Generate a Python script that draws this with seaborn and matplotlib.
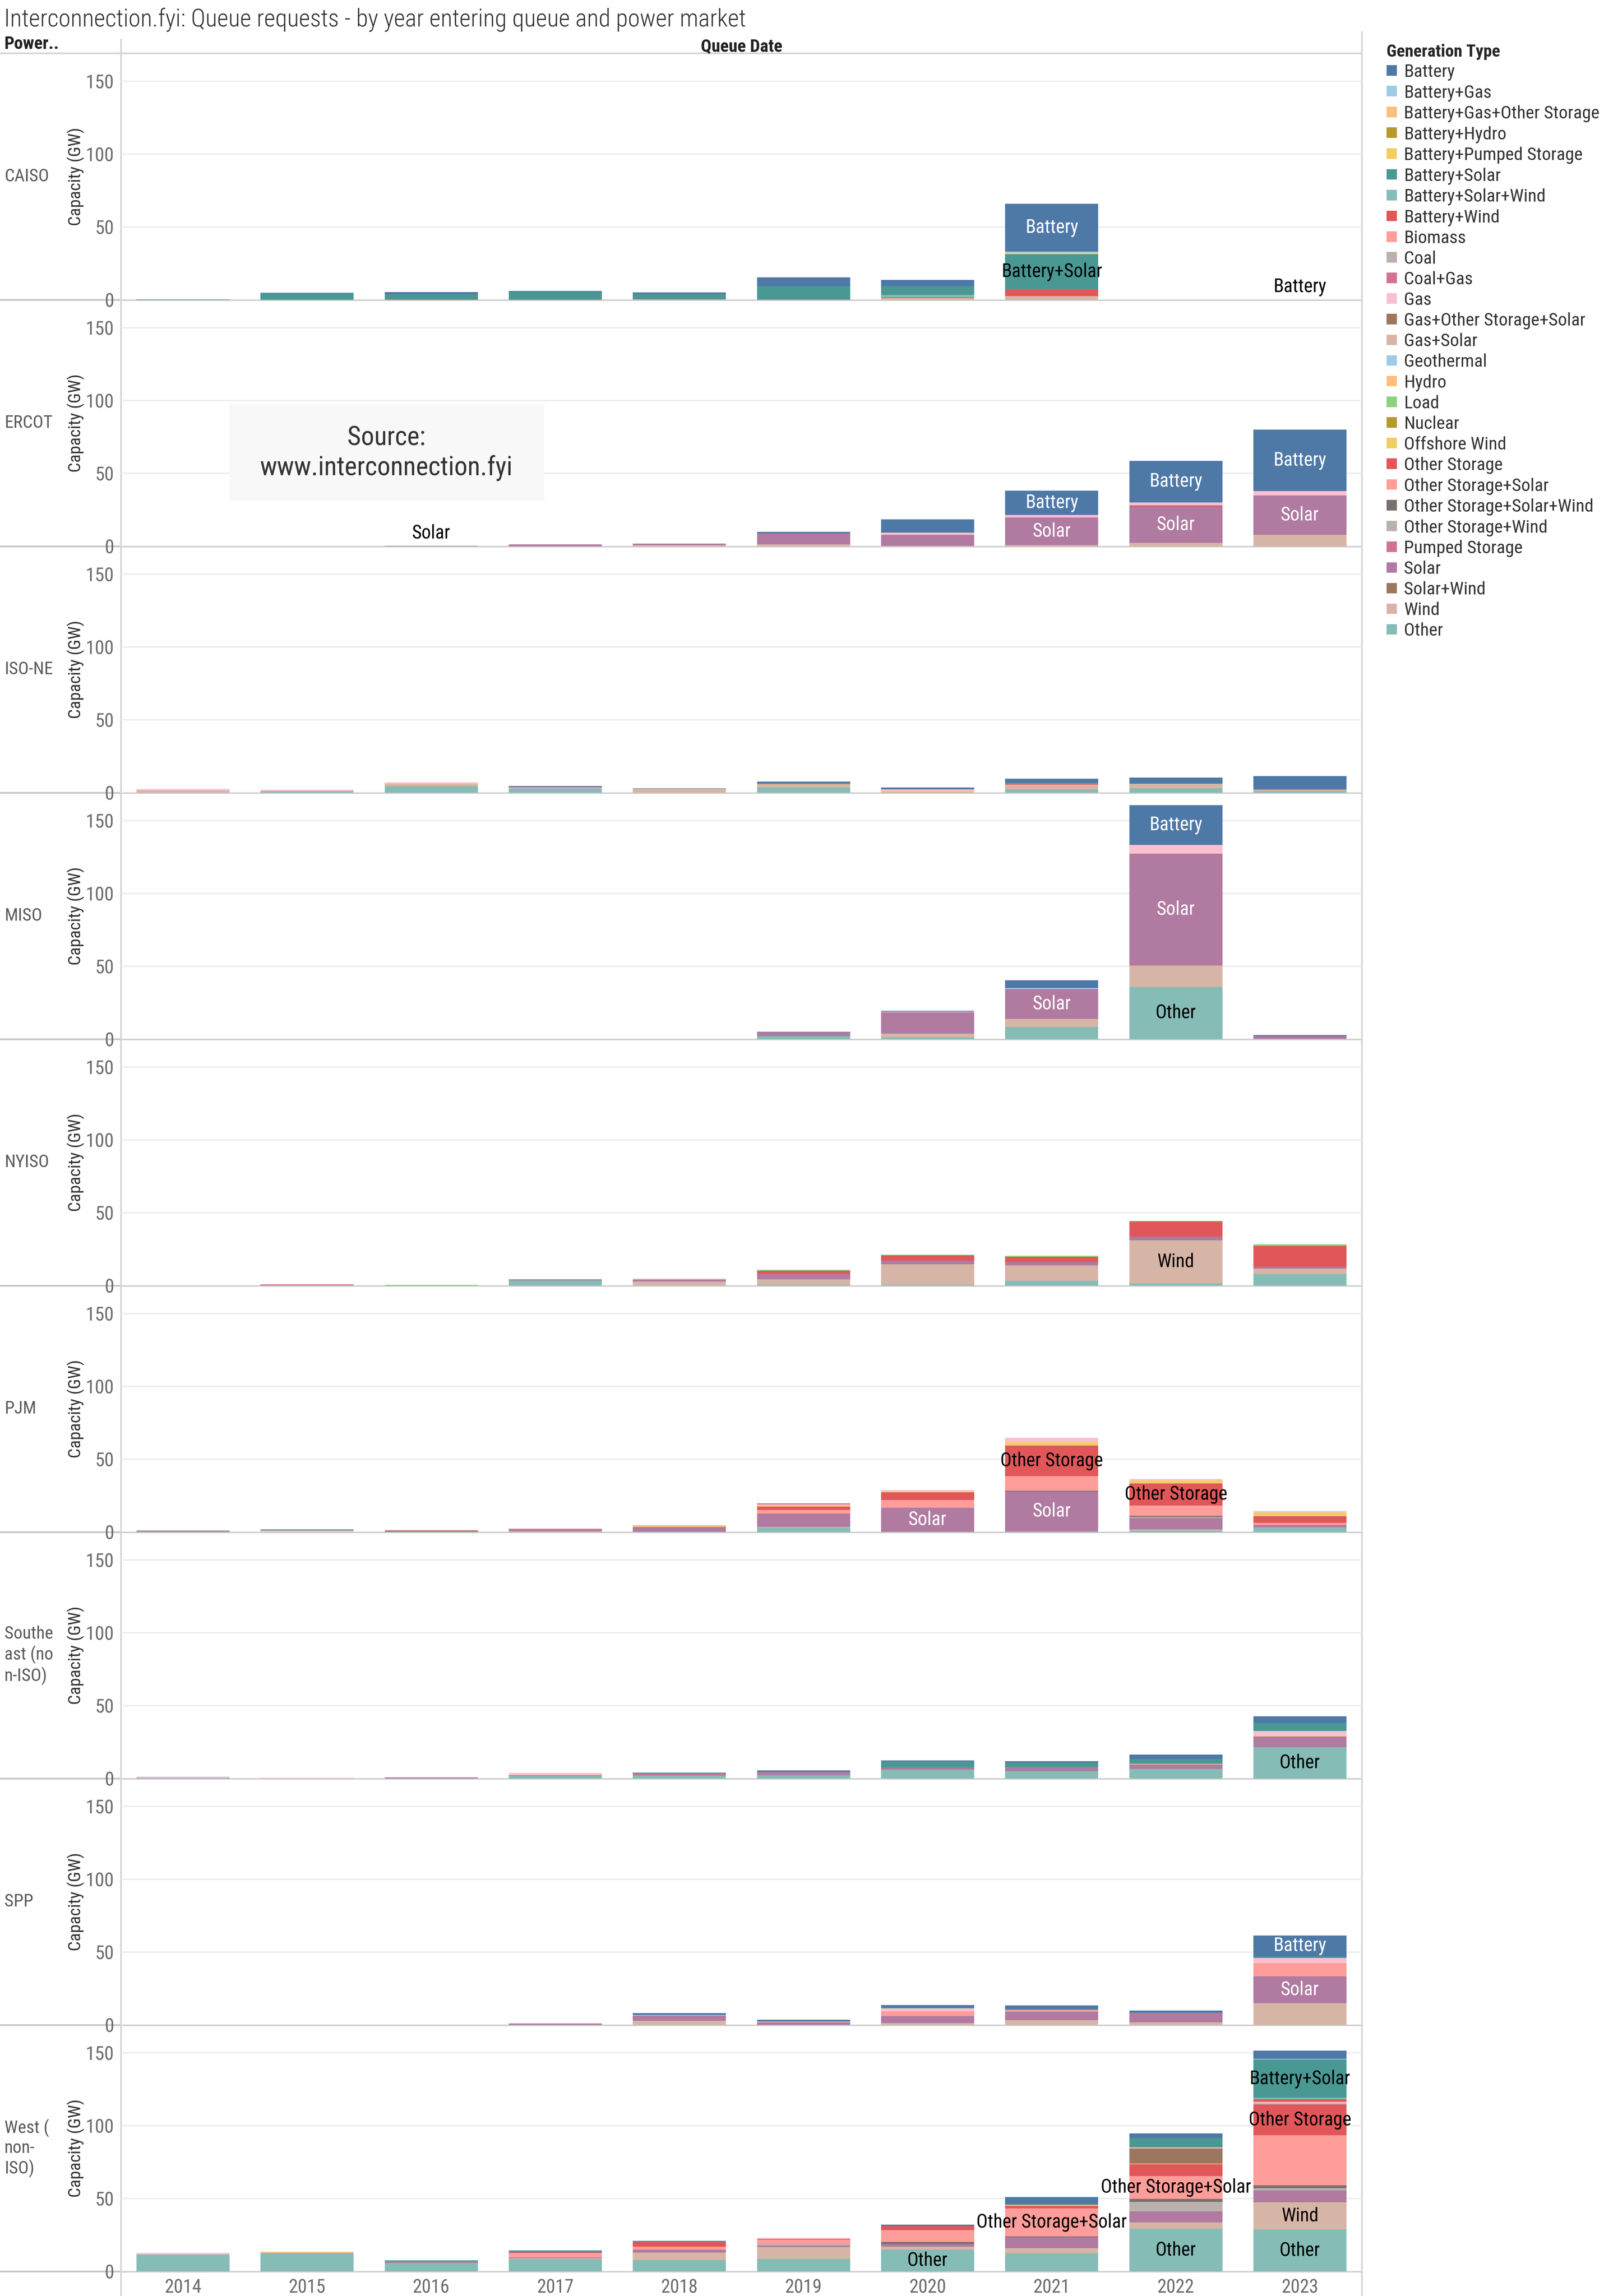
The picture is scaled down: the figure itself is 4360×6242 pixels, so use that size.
import matplotlib
matplotlib.use("Agg")
import matplotlib.pyplot as plt
from matplotlib import font_manager
from matplotlib.font_manager import FontProperties
from matplotlib.patches import Patch, Rectangle
from matplotlib.lines import Line2D
from matplotlib.textpath import TextPath
import pandas as pd
import seaborn as sns

years = [2014, 2015, 2016, 2017, 2018, 2019, 2020, 2021, 2022, 2023]

gen_types = ["Battery", "Battery+Gas", "Battery+Gas+Other Storage", "Battery+Hydro",
             "Battery+Pumped Storage", "Battery+Solar", "Battery+Solar+Wind", "Battery+Wind",
             "Biomass", "Coal", "Coal+Gas", "Gas", "Gas+Other Storage+Solar", "Gas+Solar",
             "Geothermal", "Hydro", "Load", "Nuclear", "Offshore Wind", "Other Storage",
             "Other Storage+Solar", "Other Storage+Solar+Wind", "Other Storage+Wind",
             "Pumped Storage", "Solar", "Solar+Wind", "Wind", "Other"]
gen_colors = ["#4e79a7", "#a0cbe8", "#ffbe7d", "#b6992d", "#f1ce63", "#499894", "#86bcb6",
              "#e15759", "#ff9d9a", "#bab0ac", "#d37295", "#fabfd2", "#9d7660", "#d7b5a6",
              "#a0cbe8", "#ffbe7d", "#8cd17d", "#b6992d", "#f1ce63", "#e15759", "#ff9d9a",
              "#79706e", "#bab0ac", "#d37295", "#b07aa1", "#9d7660", "#d7b5a6", "#86bcb6"]

markets = ["CAISO", "ERCOT", "ISO-NE", "MISO", "NYISO", "PJM",
           "Southeast (non-ISO)", "SPP", "West (non-ISO)"]
market_labels = ["CAISO", "ERCOT", "ISO-NE", "MISO", "NYISO", "PJM",
                 "Southe\nast (no\nn-ISO)", "SPP", "West (\nnon-\nISO)"]

# capacity in GW by generation type, one list per year 2014..2023
caiso = {
    "Battery":                [0.4, 0.3, 1.5, 0.5, 1.0, 6.0, 4.5, 33.0, 0, 0.15],
    "Battery+Gas":            [0, 0, 0, 0, 0, 0, 0, 0.7, 0, 0],
    "Battery+Pumped Storage": [0, 0, 0, 0, 0, 0, 0, 1.0, 0, 0],
    "Battery+Solar":          [0, 4.5, 3.3, 5.0, 3.8, 9.0, 6.0, 24.0, 0, 0],
    "Battery+Solar+Wind":     [0, 0, 0, 0, 0, 0, 1.5, 0, 0, 0],
    "Battery+Wind":           [0, 0, 0.5, 0.5, 0, 0, 0.5, 4.7, 0, 0],
    "Solar":                  [0, 0, 0, 0, 0, 0.4, 0, 0, 0, 0],
    "Wind":                   [0, 0, 0, 0, 0.4, 0, 1.3, 2.7, 0, 0],
}
ercot = {
    "Battery":       [0, 0, 0, 0, 0.3, 1.0, 9.0, 16.7, 28.5, 42.0],
    "Coal+Gas":      [0, 0, 0, 0, 0.3, 0, 0, 0, 0, 0],
    "Gas":           [0, 0, 0, 0, 0, 0, 1.6, 1.6, 2.0, 3.2],
    "Hydro":         [0, 0, 0, 0, 0, 0, 0, 0.3, 0, 0],
    "Other Storage": [0, 0, 0, 0, 0, 0, 0, 0, 0.9, 0],
    "Solar":         [0, 0, 0.3, 1.2, 0.5, 7.7, 7.5, 19.0, 25.0, 27.0],
    "Wind":          [0, 0, 0, 0, 0.7, 1.2, 0.3, 0.7, 2.3, 7.8],
}
isone = {
    "Battery":       [0, 0, 0, 0.5, 0.5, 1.2, 1.4, 3.0, 3.6, 9.0],
    "Battery+Hydro": [0, 0, 0, 0, 0, 0.5, 0, 0.5, 0, 0],
    "Battery+Solar": [0, 0, 0, 0, 0, 0, 0, 0, 0.5, 0.5],
    "Battery+Wind":  [0, 0, 0, 0.5, 0, 0, 0, 0.5, 0, 0],
    "Gas":           [1.0, 1.0, 0.7, 0.5, 0, 0, 0.9, 0, 0, 0],
    "Hydro":         [0, 0, 0.5, 0, 0, 0, 0.9, 0, 0, 0],
    "Wind":          [1.6, 0, 1.2, 0, 2.7, 2.1, 0.5, 3.4, 3.0, 1.0],
    "Other":         [0, 1.0, 4.6, 3.0, 0, 3.7, 0, 2.3, 3.2, 1.0],
}
miso = {
    "Battery":     [0, 0, 0, 0, 0, 0.4, 0.6, 5.4, 27.4, 0.6],
    "Battery+Gas": [0, 0, 0, 0, 0, 0, 0, 0.6, 0, 0],
    "Gas":         [0, 0, 0, 0, 0, 0, 0.4, 0, 5.6, 0],
    "Hydro":       [0, 0, 0, 0, 0, 0, 0, 0, 0.4, 0],
    "Solar":       [0, 0, 0, 0, 0, 2.8, 14.8, 20.6, 76.7, 1.7],
    "Wind":        [0, 0, 0, 0, 0, 0, 2.4, 5.6, 14.6, 0.4],
    "Other":       [0, 0, 0, 0, 0, 2.0, 1.3, 8.3, 36.0, 0],
}
nyiso = {
    "Gas":           [0, 0, 0, 0, 0.5, 0, 0, 0, 0, 0],
    "Load":          [0, 0, 0.6, 0, 0.4, 0.6, 0.6, 0.6, 0.6, 1.0],
    "Other Storage": [0, 0.5, 0, 0, 0, 2.0, 3.5, 3.5, 10.4, 14.6],
    "Solar":         [0, 0, 0, 0.9, 1.2, 3.9, 2.6, 2.4, 2.4, 1.1],
    "Wind":          [0, 0, 0, 0, 2.8, 3.7, 14.0, 10.6, 29.6, 3.9],
    "Other":         [0, 0.3, 0, 3.5, 0, 0.6, 0.6, 3.3, 1.5, 7.8],
}
pjm = {
    "Battery+Solar":            [0, 0.6, 0, 0, 0, 0, 0, 0, 0, 0],
    "Coal":                     [0, 0, 0, 0, 0.6, 0, 0, 0, 0, 0],
    "Coal+Gas":                 [0, 0, 0, 0, 0, 0.6, 0, 0, 0, 0],
    "Gas":                      [0, 1.1, 0.6, 0.4, 0, 0.9, 0.9, 3.0, 0.9, 0.9],
    "Gas+Other Storage+Solar":  [0, 0, 0.6, 0, 0, 0, 0, 0, 0, 0],
    "Hydro":                    [0, 0, 0, 0, 0.6, 0, 0, 0, 0, 0],
    "Offshore Wind":            [0, 0, 0, 0, 0, 0.6, 0.6, 2.4, 2.0, 2.6],
    "Other Storage":            [0, 0, 0, 0, 0.6, 2.2, 5.4, 20.9, 15.2, 4.6],
    "Other Storage+Solar":      [0, 0, 0, 0, 0, 2.6, 5.2, 10.0, 7.0, 1.5],
    "Other Storage+Solar+Wind": [0, 0, 0, 0, 0, 0, 0, 0.6, 0.9, 0],
    "Other Storage+Wind":       [0, 0, 0, 0, 0, 0, 0, 0, 0.6, 0],
    "Solar":                    [0.6, 0, 0, 1.5, 2.4, 9.1, 16.5, 27.2, 8.0, 1.5],
    "Wind":                     [0, 0, 0, 0.6, 0, 0.6, 0, 0, 0.6, 0],
    "Other":                    [0.4, 0, 0.4, 0, 0.4, 3.0, 0.2, 0.6, 1.1, 3.3],
}
southeast = {
    "Battery":       [0, 0, 0, 0, 0, 0.6, 0.3, 1.1, 3.0, 4.6],
    "Battery+Solar": [0, 0, 0, 0, 0.6, 0.5, 4.3, 3.0, 3.3, 5.6],
    "Coal+Gas":      [0, 0, 0, 0, 0.6, 0, 0, 0, 0, 0],
    "Gas":           [0.6, 0.4, 0, 1.5, 0, 0, 0, 0, 0, 3.3],
    "Hydro":         [0, 0, 0, 0, 0, 0, 0, 0, 0.6, 0.6],
    "Nuclear":       [0, 0, 0, 0.6, 0, 0, 0, 0, 0, 0],
    "Solar":         [0, 0, 0.8, 0, 0.9, 2.0, 1.7, 2.8, 3.0, 7.2],
    "Other":         [0.6, 0, 0, 1.7, 2.0, 2.4, 6.0, 5.0, 6.5, 21.5],
}
spp = {
    "Battery":             [0, 0, 0, 0, 1.3, 1.1, 1.8, 2.5, 1.6, 14.6],
    "Battery+Gas":         [0, 0, 0, 0, 0.6, 0, 0, 0, 0, 0],
    "Battery+Solar":       [0, 0, 0, 0, 0, 0, 0.4, 0.6, 0, 0.9],
    "Gas":                 [0, 0, 0, 0, 0, 0.6, 2.2, 0, 0, 3.6],
    "Other Storage+Solar": [0, 0, 0, 0, 0, 0, 3.1, 1.1, 0, 9.0],
    "Solar":               [0, 0, 0, 0.9, 3.4, 1.8, 4.9, 5.8, 6.5, 18.4],
    "Wind":                [0, 0, 0, 0, 2.9, 0, 1.3, 3.4, 1.8, 15.0],
}
west = {
    "Battery":                  [0, 0, 0, 0, 0, 0, 0.9, 4.6, 3.0, 5.6],
    "Battery+Gas":              [0, 0, 0, 0, 0, 0, 0, 0, 0, 0.5],
    "Battery+Solar":            [0, 0, 0.6, 1.1, 0.9, 0, 0, 0.6, 6.2, 26.3],
    "Battery+Solar+Wind":       [0, 0, 0, 0, 0, 0, 0, 0, 0, 1.0],
    "Battery+Wind":             [0, 0, 0, 0, 0, 0, 0, 0, 0.3, 1.6],
    "Gas":                      [0.9, 0, 0, 0, 0, 0.6, 0, 0, 0.9, 0.6],
    "Gas+Other Storage+Solar":  [0, 0, 0, 0, 0, 0, 0, 0, 10.3, 0],
    "Gas+Solar":                [0, 0, 0, 0, 0, 0, 0, 0, 0, 0.7],
    "Geothermal":               [0, 0, 0, 0, 0, 0, 0, 0, 0, 0.6],
    "Hydro":                    [0, 0.9, 0, 0, 0, 0, 0, 0.8, 0.4, 0],
    "Other Storage":            [0, 0, 0, 0.6, 3.1, 0.6, 3.1, 1.6, 8.1, 21.2],
    "Other Storage+Solar":      [0, 0, 0, 2.9, 2.0, 3.1, 8.1, 19.3, 15.7, 34.4],
    "Other Storage+Solar+Wind": [0, 0, 0, 0, 0, 0, 1.3, 0.6, 2.0, 2.0],
    "Other Storage+Wind":       [0, 0, 0, 0, 0, 0.9, 0, 0, 6.5, 1.5],
    "Pumped Storage":           [0, 0, 0, 0.6, 0, 0, 0, 0, 0, 0],
    "Solar":                    [0, 0, 1.3, 0, 2.0, 1.1, 1.8, 7.4, 7.6, 7.7],
    "Solar+Wind":               [0, 0, 0, 0, 0, 0, 0, 0, 0, 0.4],
    "Wind":                     [0, 0, 0, 0.6, 5.2, 8.1, 2.0, 3.5, 4.5, 18.7],
    "Other":                    [11.7, 12.6, 5.8, 8.5, 7.8, 8.5, 15.0, 12.5, 29.2, 28.7],
}
market_data = [caiso, ercot, isone, miso, nyiso, pjm, southeast, spp, west]

# segment labels shown on the bars (market, year, generation type)
bar_labels = [
    ("CAISO", 2021, "Battery"), ("CAISO", 2021, "Battery+Solar"), ("CAISO", 2023, "Battery"),
    ("ERCOT", 2016, "Solar"), ("ERCOT", 2021, "Battery"), ("ERCOT", 2021, "Solar"),
    ("ERCOT", 2022, "Battery"), ("ERCOT", 2022, "Solar"),
    ("ERCOT", 2023, "Battery"), ("ERCOT", 2023, "Solar"),
    ("MISO", 2021, "Solar"), ("MISO", 2022, "Battery"), ("MISO", 2022, "Solar"),
    ("MISO", 2022, "Other"),
    ("NYISO", 2022, "Wind"),
    ("PJM", 2020, "Solar"), ("PJM", 2021, "Other Storage"), ("PJM", 2021, "Solar"),
    ("PJM", 2022, "Other Storage"),
    ("Southeast (non-ISO)", 2023, "Other"),
    ("SPP", 2023, "Battery"), ("SPP", 2023, "Solar"),
    ("West (non-ISO)", 2020, "Other"), ("West (non-ISO)", 2021, "Other Storage+Solar"),
    ("West (non-ISO)", 2022, "Other Storage+Solar"), ("West (non-ISO)", 2022, "Other"),
    ("West (non-ISO)", 2023, "Battery+Solar"), ("West (non-ISO)", 2023, "Other Storage"),
    ("West (non-ISO)", 2023, "Wind"), ("West (non-ISO)", 2023, "Other"),
]

rows = []
for m, d in zip(markets, market_data):
    for g, vals in d.items():
        for y, v in zip(years, vals):
            if v > 0:
                rows.append({"market": m, "year": y, "type": g, "value": v})
df = pd.DataFrame(rows)
palette = dict(zip(gen_types, gen_colors))

sns.set_style("white")

# pick a condensed face if one is installed (the original uses a narrow Tableau font)
entries = font_manager.fontManager.ttflist
installed = {f.name for f in entries}
font_family, font_stretch = "DejaVu Sans", "normal"
for cand in ["Liberation Sans Narrow", "Roboto Condensed", "Open Sans Condensed",
             "Noto Sans Condensed", "DejaVu Sans Condensed", "Arial Narrow"]:
    if cand in installed:
        font_family = cand
        break
else:
    for f in entries:
        if f.stretch in ("condensed", "semi-condensed", "extra-condensed") and f.style == "normal":
            font_family, font_stretch = f.name, f.stretch
            break
plt.rcParams["font.family"] = [font_family, "DejaVu Sans"]
plt.rcParams["font.stretch"] = font_stretch
fp = FontProperties(family=font_family, stretch=font_stretch)
fp_bold = FontProperties(family=font_family, stretch=font_stretch, weight="bold")
fp_light = FontProperties(family=font_family, stretch=font_stretch, weight="light")

W, H = 1100.0, 1575.0  # layout measured on a 1100 px wide copy of the chart
PX_PER_PT = 400 / 72 / (4360 / W)

def fx(px):
    return px / W

def fy(py):
    return 1 - py / H

def fit(s, target_px, prop=fp):
    # font size that gives the text the width it has in the original
    w = TextPath((0, 0), s, size=10, prop=prop).get_extents().width
    return 10 * (target_px / PX_PER_PT) / w

title_text = "Interconnection.fyi: Queue requests - by year entering queue and power market"
fs_title = fit(title_text, 507, fp_light)
fs_source = fit("www.interconnection.fyi", 172)
fs_bar = (fit("Other Storage+Solar", 98) + fit("Battery", 36.4)) / 2
fs_xtick = fit("2014", 24.4)
fs_ytick = fit("150", 17.7)
fs_row = fit("CAISO", 29)
fs_ylab = fit("Capacity (GW)", 66)
fs_head = fit("Queue Date", 55, fp_bold)
fs_leg = fit("Battery+Gas+Other Storage", 133)
fs_legtitle = fit("Generation Type", 77, fp_bold)

top_px, bot_px, left_px, right_px = 36.65, 1558.1, 83, 934
panel_px = (bot_px - top_px) / len(markets)
y_top = panel_px / 0.999  # 1 GW is about 1 px on the measured copy

fig, axes = plt.subplots(len(markets), 1, figsize=(10.9, 15.605), dpi=400, sharex=True,
                         gridspec_kw=dict(hspace=0))
fig.subplots_adjust(left=fx(left_px), right=fx(right_px), top=fy(top_px), bottom=fy(bot_px))

for i, (ax, m) in enumerate(zip(axes, markets)):
    sub = df[df["market"] == m]
    sns.histplot(data=sub, x="year", weights="value", hue="type", hue_order=gen_types,
                 palette=palette, multiple="stack", discrete=True, shrink=0.75,
                 linewidth=0, alpha=1, legend=False, ax=ax)
    ax.set_facecolor("none")
    ax.set_xlim(2013.5, 2023.5)
    ax.set_ylim(0, y_top)
    ax.set_yticks([0, 50, 100, 150])
    ax.grid(axis="y", color="#ededed", lw=0.7)
    ax.set_axisbelow(True)
    for s in ax.spines.values():
        s.set_visible(False)
    ax.tick_params(axis="y", length=2.8, width=0.6, color="#e4e4e4", labelsize=fs_ytick,
                   labelcolor="#6b6b6b", pad=0.6)
    ax.set_ylabel("Capacity (GW)", fontsize=fs_ylab, color="#333333")
    ax.yaxis.set_label_coords(-0.0295, 0.5)
    ax.set_xlabel("")
    fig.text(fx(3), fy(top_px + (i + 0.5) * panel_px), market_labels[i], ha="left", va="center",
             fontsize=fs_row, color="#5a5a5a", linespacing=1.2)

    # text labels on bars
    d = market_data[i]
    for lm, ly, lg in bar_labels:
        if lm != m:
            continue
        k = years.index(ly)
        below = sum(d[g][k] for g in gen_types[gen_types.index(lg) + 1:] if g in d)
        val = d[lg][k]
        if val < 4:
            ax.text(ly, below + val + 2.5, lg, ha="center", va="bottom", fontsize=fs_bar,
                    color="black")
        else:
            c = "white" if lg in ("Battery", "Solar") else "black"
            ax.text(ly, below + val / 2, lg, ha="center", va="center", fontsize=fs_bar, color=c)

bottom_ax = axes[-1]
bottom_ax.set_xticks(years)
bottom_ax.set_xticklabels([str(y) for y in years])
bottom_ax.set_xticks([y + 0.5 for y in years[:-1]], minor=True)
bottom_ax.tick_params(axis="x", which="major", length=0, labelsize=fs_xtick, labelcolor="#6b6b6b",
                      pad=3.5)
bottom_ax.tick_params(axis="x", which="minor", length=4, color="#ececec")

# frame lines, kept underneath the bars
line_kw = dict(transform=fig.transFigure, lw=0.8, color="#d4d4d4", zorder=-1)
fig.add_artist(Line2D([0, fx(right_px)], [fy(top_px), fy(top_px)], **line_kw))
for k in range(1, len(markets) + 1):
    yy = fy(top_px + k * panel_px)
    fig.add_artist(Line2D([0, fx(right_px)], [yy, yy], transform=fig.transFigure, lw=0.9,
                          color="#c9c9c9", zorder=-1))
fig.add_artist(Line2D([fx(left_px), fx(left_px)], [fy(27), 0], **line_kw))
fig.add_artist(Line2D([fx(right_px), fx(right_px)], [fy(22), 0], **line_kw))

# source box
fig.add_artist(Rectangle((fx(157.5), fy(343.4)), fx(373.3) - fx(157.5), fy(276.8) - fy(343.4),
                         transform=fig.transFigure, facecolor="#f8f8f8", edgecolor="none",
                         zorder=5))
fig.text(fx(264.9), fy(300.5), "Source:", ha="center", va="center", fontsize=fs_source,
         color="#333333", zorder=6)
fig.text(fx(264.9), fy(321), "www.interconnection.fyi", ha="center", va="center",
         fontsize=fs_source, color="#333333", zorder=6)

# titles and headers
fig.text(fx(2.8), fy(13.5), title_text, ha="left", va="center", fontsize=fs_title,
         fontweight="light", color="#333333")
fig.text(fx(2.8), fy(30.3), "Power..", ha="left", va="center", fontsize=fs_head, fontweight="bold",
         color="#222222")
fig.text(fx((left_px + right_px) / 2), fy(32), "Queue Date", ha="center", va="center",
         fontsize=fs_head, fontweight="bold", color="#222222")

handles = [Patch(facecolor=c, edgecolor="none") for c in gen_colors]
leg = fig.legend(handles, gen_types, loc="upper left", bbox_to_anchor=(fx(951), fy(30)),
                 title="Generation Type", frameon=False, prop={"size": fs_leg}, borderpad=0,
                 borderaxespad=0, handlelength=5.0 / fs_leg, handleheight=4.6 / fs_leg,
                 handletextpad=3.35 / fs_leg, labelspacing=0.1 + 0.91 / fs_leg,
                 alignment="left", title_fontproperties={"weight": "bold", "size": fs_legtitle})
for t in leg.get_texts():
    t.set_color("#333333")

fig.savefig("out.png", dpi=400, facecolor="white")
